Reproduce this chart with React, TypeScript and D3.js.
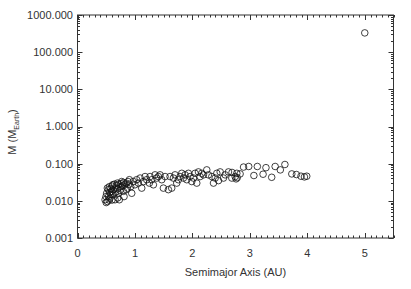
import React, { useEffect, useRef } from 'react';
import * as d3 from 'd3';

// semimajor axis (AU) and mass (Earth masses)
const semimajor = [
  0.48, 0.496, 0.508, 0.52, 0.537, 0.555, 0.566, 0.595, 0.613, 0.624, 0.653, 0.67, 0.694, 0.711,
  0.728, 0.752, 0.769, 0.798, 0.81, 0.845, 0.868, 0.903, 0.926, 0.944, 0.972, 1.0, 1.03,
  0.5, 0.52, 0.54, 0.56, 0.58, 0.6, 0.62, 0.64, 0.66, 0.68, 0.7, 0.72, 0.74, 0.76, 0.78, 0.8,
  0.82, 0.85, 0.88, 0.9, 0.55, 0.6, 0.7, 0.58,
  1.06, 1.09, 1.118, 1.147, 1.176, 1.205, 1.251, 1.263, 1.292, 1.321, 1.35, 1.379, 1.408, 1.437,
  1.466, 1.495, 1.524, 1.582, 1.611, 1.64, 1.669, 1.698, 1.727, 1.756, 1.785, 1.815, 1.844,
  1.873, 1.902, 1.931, 1.96, 1.989, 2.018, 2.047, 2.076, 2.105, 2.134, 2.163, 2.192, 2.25,
  2.279, 2.338, 2.367, 2.396, 2.425, 2.454, 2.483, 2.541, 2.57, 2.628, 2.686, 2.744, 2.773,
  2.69, 2.76, 2.78, 2.83, 2.89, 2.98, 3.07, 3.13, 3.23, 3.28, 3.38, 3.44, 3.53, 3.61, 3.73,
  3.81, 3.89, 3.95, 3.99,
  5.0
];
const mass = [
  0.0107, 0.013, 0.016, 0.0096, 0.020, 0.024, 0.0118, 0.018, 0.027, 0.0145, 0.0107, 0.022, 0.030, 0.016,
  0.0107, 0.024, 0.033, 0.018, 0.013, 0.030, 0.022, 0.037, 0.024, 0.016, 0.033, 0.027, 0.037,
  0.009, 0.022, 0.013, 0.017, 0.021, 0.025, 0.02, 0.028, 0.017, 0.026, 0.021, 0.028, 0.019, 0.029, 0.025, 0.031,
  0.027, 0.02, 0.033, 0.028, 0.0105, 0.0105, 0.012, 0.015,
  0.030, 0.041, 0.022, 0.033, 0.045, 0.037, 0.030, 0.045, 0.037, 0.027, 0.050, 0.041, 0.045, 0.050,
  0.037, 0.022, 0.045, 0.020, 0.045, 0.022, 0.041, 0.050, 0.030, 0.037, 0.045, 0.055, 0.041,
  0.050, 0.037, 0.055, 0.045, 0.033, 0.041, 0.055, 0.030, 0.060, 0.045, 0.055, 0.050, 0.068,
  0.050, 0.045, 0.030, 0.041, 0.055, 0.035, 0.060, 0.041, 0.050, 0.060, 0.041, 0.045, 0.055,
  0.058, 0.039, 0.042, 0.053, 0.081, 0.084, 0.048, 0.084, 0.052, 0.078, 0.043, 0.084, 0.068, 0.095, 0.053,
  0.051, 0.046, 0.044, 0.046,
  330
];

const xTicks = [0, 1, 2, 3, 4, 5];
const yTicks = [0.001, 0.01, 0.1, 1, 10, 100, 1000];

function ScatterPlot() {
  const ref = useRef<SVGSVGElement>(null);

  useEffect(() => {
    document.body.style.margin = '0';
    const svg = d3.select(ref.current);
    svg.selectAll('*').remove();

    const width = 411, height = 289;
    const left = 77.5, right = 393.5, top = 15, bottom = 238;
    const ink = '#333';
    const font = 'Liberation Sans, Arial, sans-serif';

    const x = d3.scaleLinear().domain([0, 5.5]).range([left, right]);
    const y = d3.scaleLog().domain([0.001, 1000]).range([bottom, top]);

    const g = svg.append('g').attr('stroke', ink).attr('stroke-width', 1).attr('fill', 'none');

    // frame
    g.append('rect').attr('x', left).attr('y', top).attr('width', right - left).attr('height', bottom - top);

    // x ticks (bottom + top, inward), 10 minor per unit
    const xMinor = d3.range(0, 55 + 1).map(i => i / 10);
    xMinor.forEach(v => {
      const major = Math.abs(v - Math.round(v)) < 1e-6;
      const len = major ? 5 : 2.5;
      const px = Math.round(x(v)) + 0.5;
      g.append('line').attr('x1', px).attr('x2', px).attr('y1', bottom).attr('y2', bottom - len);
      g.append('line').attr('x1', px).attr('x2', px).attr('y1', top).attr('y2', top + len);
    });

    // y ticks (left + right, inward), log minors
    const yMinor: number[] = [];
    for (let e = -3; e < 3; e++) for (let k = 1; k < 10; k++) yMinor.push(k * Math.pow(10, e));
    yMinor.push(1000);
    yMinor.forEach(v => {
      const major = yTicks.some(t => Math.abs(t - v) / t < 1e-6);
      const len = major ? 5 : 2.5;
      const py = Math.round(y(v)) + 0.5;
      g.append('line').attr('x1', left).attr('x2', left + len).attr('y1', py).attr('y2', py);
      g.append('line').attr('x1', right).attr('x2', right - len).attr('y1', py).attr('y2', py);
    });

    // tick labels
    svg.append('g').selectAll('text').data(xTicks).join('text')
      .attr('x', d => x(d)).attr('y', 257)
      .attr('text-anchor', 'middle')
      .attr('font-family', font).attr('font-size', 11).attr('fill', ink)
      .text(d => String(d));

    svg.append('g').selectAll('text').data(yTicks).join('text')
      .attr('x', 73).attr('y', d => y(d)).attr('dy', '0.35em')
      .attr('text-anchor', 'end')
      .attr('font-family', font).attr('font-size', 11).attr('fill', ink)
      .text(d => d3.format('.3f')(d));

    // axis titles
    svg.append('text')
      .attr('x', (left + right) / 2).attr('y', 276)
      .attr('text-anchor', 'middle')
      .attr('font-family', font).attr('font-size', 11).attr('fill', ink)
      .text('Semimajor Axis (AU)');

    const yt = svg.append('text')
      .attr('transform', 'translate(16,132) rotate(-90)')
      .attr('text-anchor', 'middle')
      .attr('font-family', font).attr('font-size', 11).attr('fill', ink);
    yt.append('tspan').text('M (M');
    yt.append('tspan').attr('font-size', 7).attr('dy', 3).text('Earth');
    yt.append('tspan').attr('dy', -3).text(')');

    // points
    svg.append('g')
      .attr('stroke', '#111').attr('stroke-width', 0.8).attr('fill', 'none')
      .selectAll('circle')
      .data(d3.range(semimajor.length))
      .join('circle')
      .attr('cx', i => x(semimajor[i]))
      .attr('cy', i => y(mass[i]))
      .attr('r', 3.3);

    svg.attr('width', width).attr('height', height);
  }, []);

  return <svg ref={ref} width={411} height={289} style={{ display: 'block', background: '#fff' }} />;
}

export default function App() {
  return <ScatterPlot />;
}
